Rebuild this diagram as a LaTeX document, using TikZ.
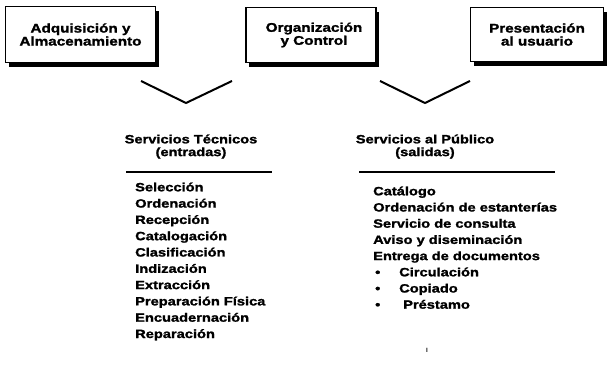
\documentclass[tikz,border=0pt]{standalone}
\usepackage{fontspec}
\setmainfont{Liberation Sans}[FakeStretch=1.22, BoldFeatures={FakeBold=1.6}]
\usetikzlibrary{shadows}
\begin{document}
\begin{tikzpicture}[x=1pt,y=1pt,
  txt/.style={font=\fontsize{12}{14}\selectfont\bfseries, inner sep=0pt},
  box/.style={txt, font=\fontsize{12.5}{14}\selectfont\bfseries, draw, line width=1.1pt, fill=white, align=center,
    drop shadow={shadow xshift=3pt, shadow yshift=-5pt, fill=black, opacity=1}},
  chev/.style={line width=2pt},
  rule/.style={line width=1.4pt},
  item/.style={txt, anchor=base west}]
\useasboundingbox (0,0) rectangle (608,-366);
% boxes
\node[box, minimum width=150pt, minimum height=56pt] (b1) at (80.5,-34.5) {Adquisición y\\[-1pt]Almacenamiento};
\node[box, minimum width=130pt, minimum height=55pt, text width=118pt, align=center] (b2) at (311,-35) {\hspace*{6pt}Organización\\[-1pt]\hspace*{6pt}y Control};
\node[box, minimum width=133pt, minimum height=54pt] (b3) at (537,-34.5) {Presentación\\[-1pt]al usuario};
% chevrons
\coordinate (c1a) at (141,-81); \coordinate (c1v) at (186,-103); \coordinate (c1b) at (232,-81);
\coordinate (c2a) at (380,-81); \coordinate (c2v) at (425,-103); \coordinate (c2b) at (470,-81);
\draw[chev] (c1a) -- (c1v) -- (c1b);
\draw[chev] (c2a) -- (c2v) -- (c2b);
% headings
\node[txt] (h1) at (191,-139) {Servicios Técnicos};
\node[txt] (h1b) at (191,-153) {(entradas)};
\node[txt] (h2) at (425,-139) {Servicios al Público};
\node[txt] (h2b) at (425,-153) {(salidas)};
\coordinate (r1a) at (126,-172); \coordinate (r1b) at (272,-172);
\coordinate (r2a) at (359,-172); \coordinate (r2b) at (555,-172);
\draw[rule] (r1a) -- (r1b);
\draw[rule] (r2a) -- (r2b);
% left list
\foreach \t [count=\i] in {Selección,Ordenación,Recepción,Catalogación,Clasificación,Indización,Extracción,Preparación Física,Encuadernación,Reparación}
  \node[item] (l\i) at (135,{-191.3-16.3*(\i-1)}) {\t};
% right list
\foreach \t [count=\i] in {Catálogo,Ordenación de estanterías,Servicio de consulta,Aviso y diseminación,Entrega de documentos}
  \node[item] (m\i) at (373,{-195.3-16.2*(\i-1)}) {\t};
\node[item] (d1) at (375,-276.3) {•};
\node[item] (d2) at (375,-292.5) {•};
\node[item] (d3) at (375,-308.7) {•};
\node[item] (s1) at (399,-276.3) {Circulación};
\node[item] (s2) at (399,-292.5) {Copiado};
\node[item] (s3) at (403,-308.7) {Préstamo};
\node[txt, font=\fontsize{8}{8}\selectfont] (pg) at (427,-350) {ı};
\end{tikzpicture}
\end{document}
